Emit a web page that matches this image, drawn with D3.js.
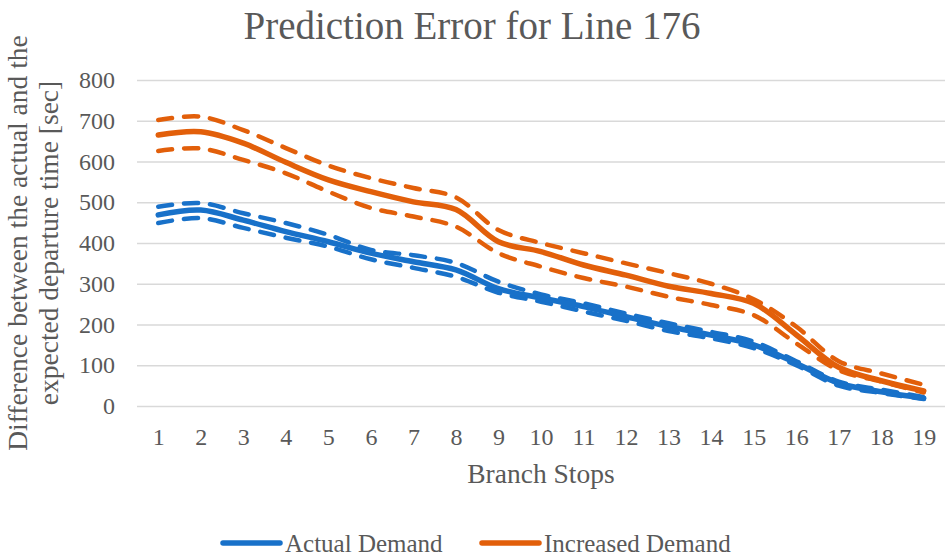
<!DOCTYPE html>
<html>
<head>
<meta charset="utf-8">
<script src="https://cdn.jsdelivr.net/npm/d3@7"></script>
<style>
    body { margin: 0; background: #fff; }
    text { font-family: "Liberation Serif", "Times New Roman", serif; fill: #595959; }
</style>
</head>
<body>
<div id="graph"></div>
<script>
// chart data
var stops = [1, 2, 3, 4, 5, 6, 7, 8, 9, 10, 11, 12, 13, 14, 15, 16, 17, 18, 19];
var actualDemand = [469, 481, 456, 428, 403, 375, 354, 334, 288, 265, 244, 219, 195, 174, 150, 105, 56, 35, 19];
var actualUpper  = [489, 498, 473, 449, 420, 383, 370, 351, 305, 274, 252, 227, 203, 182, 158, 110, 60, 40, 22];
var actualLower  = [449, 461, 437, 413, 391, 360, 339, 317, 278, 256, 232, 209, 184, 166, 142, 100, 50, 32, 17];
var increasedDemand = [665, 673, 645, 598, 555, 526, 501, 482, 403, 379, 346, 321, 294, 276, 252, 175, 95, 62, 37];
var increasedUpper  = [702, 710, 677, 633, 590, 559, 535, 512, 432, 400, 375, 350, 326, 300, 262, 195, 110, 80, 52];
var increasedLower  = [626, 632, 604, 571, 526, 486, 465, 440, 375, 342, 314, 293, 268, 248, 223, 154, 88, 60, 33];
var yTicks = [0, 100, 200, 300, 400, 500, 600, 700, 800];

var blue = "#1871c9", orange = "#e25f0a";

var width = 945, height = 560;
var margin = {top: 80, right: 0, bottom: 154, left: 137};

var svg = d3.select("#graph").append("svg")
    .attr("width", width)
    .attr("height", height);

var xScale = d3.scalePoint()
    .domain(stops)
    .range([margin.left, width - margin.right])
    .padding(0.5);

var yScale = d3.scaleLinear()
    .domain([0, 800])
    .range([height - margin.bottom, margin.top]);

// title
svg.append("text")
    .attr("x", 472)
    .attr("y", 39)
    .attr("text-anchor", "middle")
    .style("font-size", "39px")
    .text("Prediction Error for Line 176");

// gridlines
svg.append("g")
    .attr("transform", "translate(" + margin.left + ",0)")
    .call(d3.axisLeft(yScale).tickValues(yTicks).tickSize(-(width - margin.left - margin.right)).tickPadding(22))
    .call(function(g) {
        g.select(".domain").remove();
        g.selectAll(".tick line").attr("stroke", "#d9d9d9").attr("stroke-width", 1.5);
        g.selectAll(".tick text").style("font-size", "24px").attr("fill", "#595959");
    });

// x axis labels
svg.append("g")
    .attr("transform", "translate(0," + (height - margin.bottom) + ")")
    .call(d3.axisBottom(xScale).tickSize(0).tickPadding(22))
    .call(function(g) {
        g.select(".domain").remove();
        g.selectAll(".tick text").style("font-size", "24px").attr("fill", "#595959");
    });

// axis titles
svg.append("text")
    .attr("x", 541)
    .attr("y", 483)
    .attr("text-anchor", "middle")
    .style("font-size", "27.5px")
    .text("Branch Stops");

var yTitle = svg.append("text")
    .attr("transform", "translate(0,243) rotate(-90)")
    .attr("text-anchor", "middle")
    .style("font-size", "27.5px");
yTitle.append("tspan").attr("x", 0).attr("y", 27).text("Difference between the actual and the");
yTitle.append("tspan").attr("x", 0).attr("y", 58).text("expected departure time [sec]");

var line = d3.line()
    .x(function(d, i) { return xScale(stops[i]); })
    .y(function(d) { return yScale(d); })
    .curve(d3.curveCatmullRom.alpha(0.5));

var series = [
    {values: actualUpper, color: blue, dashed: true},
    {values: actualLower, color: blue, dashed: true},
    {values: actualDemand, color: blue, dashed: false},
    {values: increasedUpper, color: orange, dashed: true},
    {values: increasedLower, color: orange, dashed: true},
    {values: increasedDemand, color: orange, dashed: false}
];

svg.selectAll(".series")
    .data(series)
    .enter().append("path")
    .attr("class", "series")
    .attr("fill", "none")
    .attr("stroke", function(d) { return d.color; })
    .attr("stroke-width", function(d) { return d.dashed ? 4.5 : 5.5; })
    .attr("stroke-linecap", "round")
    .attr("stroke-linejoin", "round")
    .attr("stroke-dasharray", function(d) { return d.dashed ? "14,12" : null; })
    .attr("d", function(d) { return line(d.values); });

// legend
var legend = [
    {name: "Actual Demand", color: blue, x: 223},
    {name: "Increased Demand", color: orange, x: 482}
];
var lg = svg.selectAll(".legend")
    .data(legend)
    .enter().append("g")
    .attr("class", "legend")
    .attr("transform", function(d) { return "translate(" + d.x + ",543)"; });
lg.append("line")
    .attr("x1", 0).attr("x2", 57)
    .attr("stroke", function(d) { return d.color; })
    .attr("stroke-width", 5.5)
    .attr("stroke-linecap", "round");
lg.append("text")
    .attr("x", 62)
    .attr("y", 9)
    .style("font-size", "25px")
    .text(function(d) { return d.name; });
</script>
</body>
</html>
